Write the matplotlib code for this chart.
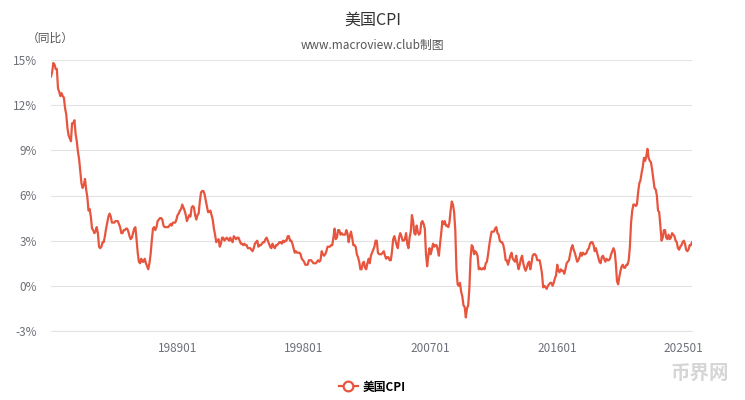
import matplotlib
matplotlib.use("Agg")
import matplotlib.pyplot as plt
from matplotlib.lines import Line2D
import numpy as np

plt.rcParams['font.family'] = ['Noto Sans CJK SC', 'DejaVu Sans']

start_year = 1980
cpi_1980 = [13.9, 14.2, 14.8, 14.7, 14.4, 14.4, 13.1, 12.9, 12.6, 12.8, 12.6, 12.5]
cpi_1981 = [11.8, 11.4, 10.5, 10.0, 9.8, 9.6, 10.8, 10.8, 11.0, 10.1, 9.6, 8.9]
cpi_1982 = [8.4, 7.6, 6.8, 6.5, 6.7, 7.1, 6.4, 5.9, 5.0, 5.1, 4.6, 3.8]
cpi_1983 = [3.7, 3.5, 3.6, 3.9, 3.5, 2.6, 2.5, 2.6, 2.9, 2.9, 3.3, 3.8]
cpi_1984 = [4.2, 4.6, 4.8, 4.6, 4.2, 4.2, 4.2, 4.3, 4.3, 4.3, 4.1, 3.9]
cpi_1985 = [3.5, 3.5, 3.7, 3.7, 3.8, 3.8, 3.6, 3.3, 3.1, 3.2, 3.5, 3.8]
cpi_1986 = [3.9, 3.1, 2.2, 1.6, 1.5, 1.8, 1.6, 1.6, 1.8, 1.5, 1.3, 1.1]
cpi_1987 = [1.5, 2.1, 3.0, 3.8, 3.9, 3.7, 3.9, 4.3, 4.4, 4.5, 4.5, 4.4]
cpi_1988 = [4.0, 3.9, 3.9, 3.9, 3.9, 4.0, 4.1, 4.0, 4.2, 4.2, 4.2, 4.4]
cpi_1989 = [4.7, 4.8, 5.0, 5.1, 5.4, 5.2, 5.0, 4.7, 4.3, 4.5, 4.7, 4.6]
cpi_1990 = [5.2, 5.3, 5.2, 4.7, 4.4, 4.7, 4.8, 5.6, 6.2, 6.3, 6.3, 6.1]
cpi_1991 = [5.7, 5.3, 4.9, 4.9, 5.0, 4.7, 4.4, 3.8, 3.4, 2.9, 3.0, 3.1]
cpi_1992 = [2.6, 2.8, 3.2, 3.2, 3.0, 3.1, 3.2, 3.1, 3.0, 3.2, 3.0, 2.9]
cpi_1993 = [3.3, 3.2, 3.1, 3.2, 3.2, 3.0, 2.8, 2.8, 2.7, 2.8, 2.7, 2.7]
cpi_1994 = [2.5, 2.5, 2.5, 2.4, 2.3, 2.5, 2.8, 2.9, 3.0, 2.6, 2.7, 2.7]
cpi_1995 = [2.8, 2.9, 2.9, 3.1, 3.2, 3.0, 2.8, 2.6, 2.5, 2.8, 2.6, 2.5]
cpi_1996 = [2.7, 2.7, 2.8, 2.9, 2.9, 2.8, 3.0, 2.9, 3.0, 3.0, 3.3, 3.3]
cpi_1997 = [3.0, 3.0, 2.8, 2.5, 2.2, 2.3, 2.2, 2.2, 2.2, 2.1, 1.8, 1.7]
cpi_1998 = [1.6, 1.4, 1.4, 1.4, 1.7, 1.7, 1.7, 1.6, 1.5, 1.5, 1.5, 1.6]
cpi_1999 = [1.7, 1.6, 1.7, 2.3, 2.1, 2.0, 2.1, 2.3, 2.6, 2.6, 2.6, 2.7]
cpi_2000 = [2.7, 3.2, 3.8, 3.1, 3.2, 3.7, 3.7, 3.4, 3.5, 3.4, 3.4, 3.4]
cpi_2001 = [3.7, 3.5, 2.9, 3.3, 3.6, 3.2, 2.7, 2.7, 2.6, 2.1, 1.9, 1.6]
cpi_2002 = [1.1, 1.1, 1.5, 1.6, 1.2, 1.1, 1.5, 1.8, 1.5, 2.0, 2.2, 2.4]
cpi_2003 = [2.6, 3.0, 3.0, 2.2, 2.1, 2.1, 2.1, 2.2, 2.3, 2.0, 1.8, 1.9]
cpi_2004 = [1.9, 1.7, 1.7, 2.3, 3.1, 3.3, 3.0, 2.7, 2.5, 3.2, 3.5, 3.3]
cpi_2005 = [3.0, 3.0, 3.1, 3.5, 2.8, 2.5, 3.2, 3.6, 4.7, 4.3, 3.5, 3.4]
cpi_2006 = [4.0, 3.6, 3.4, 3.5, 4.2, 4.3, 4.1, 3.8, 2.1, 1.3, 2.0, 2.5]
cpi_2007 = [2.1, 2.4, 2.8, 2.6, 2.7, 2.7, 2.4, 2.0, 2.8, 3.5, 4.3, 4.1]
cpi_2008 = [4.3, 4.0, 4.0, 3.9, 4.2, 5.0, 5.6, 5.4, 4.9, 3.7, 1.1, 0.1]
cpi_2009 = [0.0, 0.2, -0.4, -0.7, -1.3, -1.4, -2.1, -1.5, -1.3, -0.2, 1.8, 2.7]
cpi_2010 = [2.6, 2.1, 2.3, 2.2, 2.0, 1.1, 1.2, 1.1, 1.1, 1.2, 1.1, 1.5]
cpi_2011 = [1.6, 2.1, 2.7, 3.2, 3.6, 3.6, 3.6, 3.8, 3.9, 3.5, 3.4, 3.0]
cpi_2012 = [2.9, 2.9, 2.7, 2.3, 1.7, 1.7, 1.4, 1.7, 2.0, 2.2, 1.8, 1.7]
cpi_2013 = [1.6, 2.0, 1.5, 1.1, 1.4, 1.8, 2.0, 1.5, 1.2, 1.0, 1.2, 1.5]
cpi_2014 = [1.6, 1.1, 1.5, 2.0, 2.1, 2.1, 2.0, 1.7, 1.7, 1.7, 1.3, 0.8]
cpi_2015 = [-0.1, 0.0, -0.1, -0.2, 0.0, 0.1, 0.2, 0.2, 0.0, 0.2, 0.5, 0.7]
cpi_2016 = [1.4, 1.0, 0.9, 1.1, 1.0, 1.0, 0.8, 1.1, 1.5, 1.6, 1.7, 2.1]
cpi_2017 = [2.5, 2.7, 2.4, 2.2, 1.9, 1.6, 1.7, 1.9, 2.2, 2.0, 2.2, 2.1]
cpi_2018 = [2.1, 2.2, 2.4, 2.5, 2.8, 2.9, 2.9, 2.7, 2.3, 2.5, 2.2, 1.9]
cpi_2019 = [1.6, 1.5, 1.9, 2.0, 1.8, 1.6, 1.8, 1.7, 1.7, 1.8, 2.1, 2.3]
cpi_2020 = [2.5, 2.3, 1.5, 0.3, 0.1, 0.6, 1.0, 1.3, 1.4, 1.2, 1.2, 1.4]
cpi_2021 = [1.4, 1.7, 2.6, 4.2, 5.0, 5.4, 5.4, 5.3, 5.4, 6.2, 6.8, 7.0]
cpi_2022 = [7.5, 7.9, 8.5, 8.3, 8.6, 9.1, 8.5, 8.3, 8.2, 7.7, 7.1, 6.5]
cpi_2023 = [6.4, 6.0, 5.0, 4.9, 4.0, 3.0, 3.2, 3.7, 3.7, 3.2, 3.1, 3.4]
cpi_2024 = [3.1, 3.2, 3.5, 3.4, 3.3, 3.0, 2.9, 2.5, 2.4, 2.6, 2.7, 2.9]
cpi_2025 = [3.0, 2.8, 2.4, 2.3, 2.4, 2.7, 2.7, 2.9]

tick_labels = ["198901", "199801", "200701", "201601", "202501"]
y_ticks = [-3, 0, 3, 6, 9, 12, 15]

series = (cpi_1980 + cpi_1981 + cpi_1982 + cpi_1983 + cpi_1984 + cpi_1985 + cpi_1986 +
          cpi_1987 + cpi_1988 + cpi_1989 + cpi_1990 + cpi_1991 + cpi_1992 + cpi_1993 +
          cpi_1994 + cpi_1995 + cpi_1996 + cpi_1997 + cpi_1998 + cpi_1999 + cpi_2000 +
          cpi_2001 + cpi_2002 + cpi_2003 + cpi_2004 + cpi_2005 + cpi_2006 + cpi_2007 +
          cpi_2008 + cpi_2009 + cpi_2010 + cpi_2011 + cpi_2012 + cpi_2013 + cpi_2014 +
          cpi_2015 + cpi_2016 + cpi_2017 + cpi_2018 + cpi_2019 + cpi_2020 + cpi_2021 +
          cpi_2022 + cpi_2023 + cpi_2024 + cpi_2025)
dates = []
for i in range(len(series)):
    y = start_year + i // 12
    m = i % 12 + 1
    dates.append(f"{y}{m:02d}")

color = '#e8553e'
fig = plt.figure(figsize=(7.45, 4.0), dpi=100)
ax = fig.add_axes([51/745, 1-331/400, (692-51)/745, (331-60)/400])

x = np.arange(len(series))
ax.plot(x, series, color=color, lw=1.6, solid_joinstyle='round')
ax.set_xlim(0, len(series)-1)
ax.set_ylim(-3, 15)
ax.set_yticks(y_ticks)
ax.set_yticklabels([f"{v}%" for v in y_ticks])
tick_pos = [dates.index(t) for t in tick_labels]
ax.set_xticks(tick_pos)
ax.set_xticklabels(tick_labels)
ax.grid(axis='y', color='#e3e3e3', lw=0.8)
ax.set_axisbelow(True)
for s in ['top', 'right', 'left']:
    ax.spines[s].set_visible(False)
ax.spines['bottom'].set_color('#e3e3e3')
ax.spines['bottom'].set_linewidth(0.8)
ax.tick_params(axis='both', length=0, labelsize=8.5, labelcolor='#6e7079')
ax.tick_params(axis='y', pad=10)
ax.tick_params(axis='x', pad=8)

fig.text(0.5, 1-20/400, "美国CPI", ha='center', va='center', fontsize=11.5, color='#333333')
fig.text(0.5, 1-46/400, "www.macroview.club制图", ha='center', va='center', fontsize=8.5, color='#555555')
fig.text(50/745, 1-38/400, "（同比）", ha='center', va='center', fontsize=8.5, color='#555555')

handle = Line2D([], [], color=color, lw=1.6, marker='o', markersize=7,
                markerfacecolor='white', markeredgecolor=color, markeredgewidth=1.6)
fig.legend([handle], ["美国CPI"], loc='center', bbox_to_anchor=(372/745, 1-387/400),
           frameon=False, handlelength=1.6, handletextpad=0.4,
           prop={'family': ['Noto Sans CJK SC', 'DejaVu Sans'], 'size': 8.5, 'weight': 'bold'})

fig.text(700/745, 1-373/400, "币界网", ha='center', va='center', fontsize=14,
         color='#d6d6d6', fontweight='bold')

fig.savefig("out.png", dpi=100)
